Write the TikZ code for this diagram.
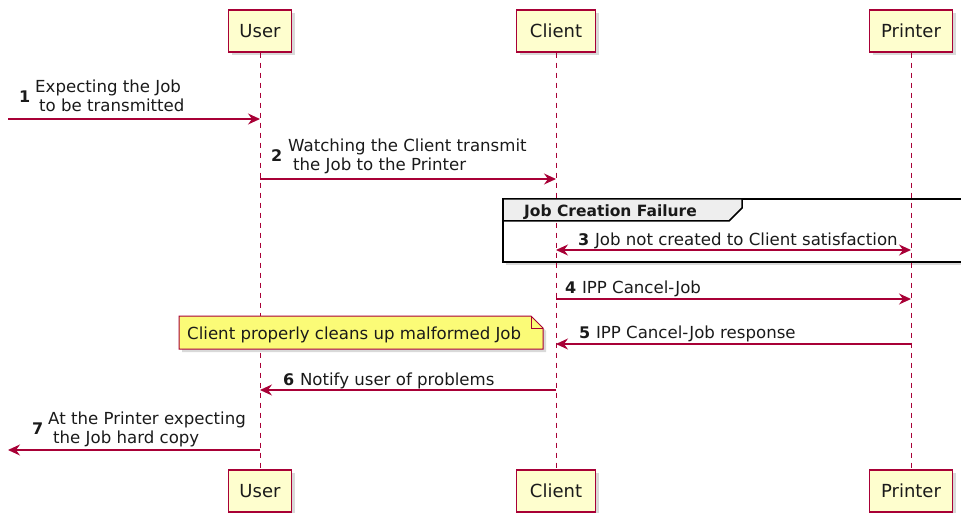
\documentclass[tikz,border=0pt]{standalone}
\usepackage{fontspec}
\setmainfont{DejaVu Sans}
\usetikzlibrary{arrows.meta,shadows}
\definecolor{pcol}{HTML}{A80036}
\definecolor{pfill}{HTML}{FEFECE}
\definecolor{nfill}{HTML}{FBFB77}
\definecolor{tabfill}{HTML}{EEEEEE}
\definecolor{txt}{HTML}{1A1A1A}
\begin{document}
\begin{tikzpicture}[x=1pt,y=-1pt,
  font=\fontsize{16.6}{19}\selectfont,
  part/.style={draw=pcol, fill=pfill, line width=1.3pt, minimum height=42pt, inner sep=0pt, text=txt,
    font=\fontsize{18}{20}\selectfont,
    drop shadow={shadow xshift=3pt, shadow yshift=-3pt, opacity=0.3}},
  life/.style={draw=pcol, line width=1pt, dash pattern=on 5pt off 5pt},
  msg/.style={draw=pcol, line width=1.1pt, -{Stealth[length=12pt,width=11pt,inset=4pt]}},
  dmsg/.style={draw=pcol, line width=1.1pt, {Stealth[length=12pt,width=11pt,inset=4pt]}-{Stealth[length=12pt,width=11pt,inset=4pt]}},
  lbl/.style={anchor=base west, inner sep=0pt, text=txt},
  num/.style={font=\fontsize{16}{19}\selectfont\bfseries},
]
\useasboundingbox (0,0) rectangle (961,513);
% group frame
\draw[line width=2pt, fill=white, drop shadow={shadow xshift=3pt, shadow yshift=-3pt, opacity=0.3}] (503,199) rectangle (990,262);
% participant positions
\path (260,31) coordinate (uTc) (556,31) coordinate (cTc) (911,31) coordinate (pTc)
      (260,491) coordinate (uBc) (556,491) coordinate (cBc) (911,491) coordinate (pBc);
\node[part, minimum width=63pt] (uT) at (uTc) {User};
\node[part, minimum width=79pt] (cT) at (cTc) {Client};
\node[part, minimum width=83pt] (pT) at (pTc) {Printer};
\node[part, minimum width=63pt] (uB) at (uBc) {User};
\node[part, minimum width=79pt] (cB) at (cBc) {Client};
\node[part, minimum width=83pt] (pB) at (pBc) {Printer};
% lifelines
\draw[life] (uT.south) -- (uB.north);
\draw[life] (cT.south) -- (cB.north);
\draw[life] (pT.south) -- (pB.north);
% group tab
\draw[line width=1.5pt, fill=tabfill] (503,199) -- (742,199) -- (742,208) -- (729,221) -- (503,221) -- cycle;
\node[lbl, font=\fontsize{15.5}{19}\selectfont\bfseries] (gl) at (524,217) {Job Creation Failure};
% note
\draw[draw=pcol, fill=nfill, line width=1pt, drop shadow={shadow xshift=3pt, shadow yshift=-3pt, opacity=0.3}]
  (179,316) -- (531,316) -- (543,328) -- (543,349) -- (179,349) -- cycle;
\draw[draw=pcol, line width=1pt] (531,316) -- (531,328) -- (543,328);
\node[lbl] (note) at (187,339) {Client properly cleans up malformed Job};
% messages
\coordinate (s1) at (8,119);
\draw[msg] (s1) -- (uT.south |- s1);
\node[lbl, num] (n1) at (19,103) {1};
\node[lbl] (t1a) at (35,93) {Expecting the Job};
\node[lbl] (t1b) at (39,112) {to be transmitted};

\coordinate (y2) at (0,179);
\draw[msg] (uT.south |- y2) -- (cT.south |- y2);
\node[lbl, num] (n2) at (271,162) {2};
\node[lbl] (t2a) at (288,152) {Watching the Client transmit};
\node[lbl] (t2b) at (293,171) {the Job to the Printer};

\coordinate (y3) at (0,250);
\draw[dmsg] (cT.south |- y3) -- (pT.south |- y3);
\node[lbl, num] (n3) at (578,246) {3};
\node[lbl] (t3) at (n3.base east) {\ Job not created to Client satisfaction};

\coordinate (y4) at (0,299);
\draw[msg] (cT.south |- y4) -- (pT.south |- y4);
\node[lbl, num] (n4) at (565,293) {4};
\node[lbl] (t4) at (n4.base east) {\ IPP Cancel-Job};

\coordinate (y5) at (0,344);
\draw[msg] (pT.south |- y5) -- (cT.south |- y5);
\node[lbl, num] (n5) at (579,338) {5};
\node[lbl] (t5) at (n5.base east) {\ IPP Cancel-Job response};

\coordinate (y6) at (0,390);
\draw[msg] (cT.south |- y6) -- (uT.south |- y6);
\node[lbl, num] (n6) at (283,385) {6};
\node[lbl] (t6) at (n6.base east) {\ Notify user of problems};

\coordinate (e7) at (8,450);
\draw[msg] (uT.south |- e7) -- (e7);
\node[lbl, num] (n7) at (32,434) {7};
\node[lbl] (t7a) at (48,424) {At the Printer expecting};
\node[lbl] (t7b) at (53,443) {the Job hard copy};
\end{tikzpicture}
\end{document}
